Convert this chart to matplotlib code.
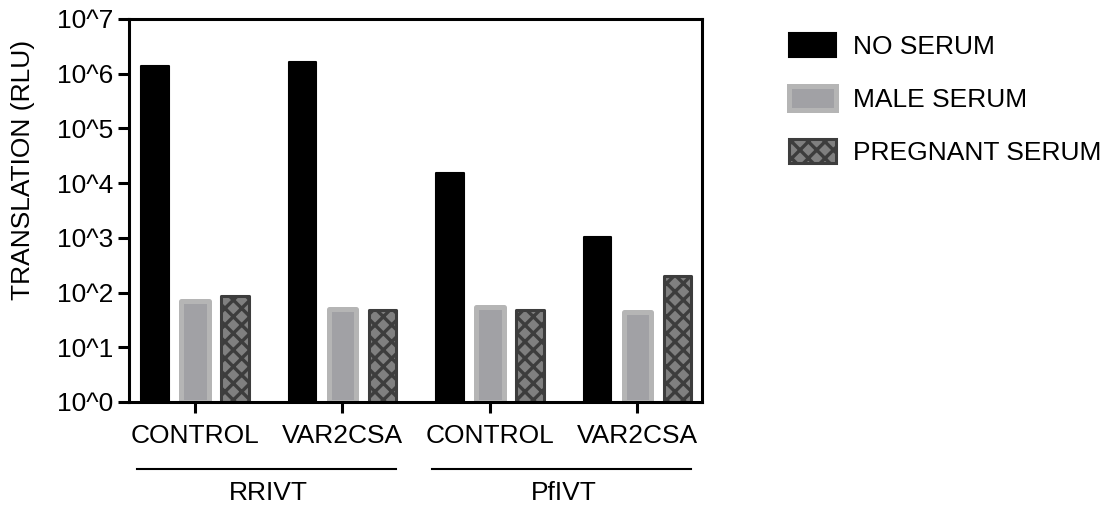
import matplotlib.pyplot as plt
import numpy as np
from matplotlib.lines import Line2D
from matplotlib.patches import Patch
from matplotlib.transforms import blended_transform_factory

plt.rcParams["font.family"] = ["Liberation Sans", "DejaVu Sans"]
plt.rcParams["hatch.linewidth"] = 2.4

# values
categories = ["CONTROL", "VAR2CSA", "CONTROL", "VAR2CSA"]
groups = ["RRIVT", "PfIVT"]
series = ["NO SERUM", "MALE SERUM", "PREGNANT SERUM"]
no_serum = [1.4e6, 1.65e6, 1.5e4, 1.05e3]
male_serum = [70, 50, 54, 44]
pregnant_serum = [85, 47, 47, 200]
ytick_values = [1, 10, 100, 1e3, 1e4, 1e5, 1e6, 1e7]
ytick_labels = ["10^0", "10^1", "10^2", "10^3", "10^4", "10^5", "10^6", "10^7"]

FS = 19

fig = plt.figure(figsize=(11.07, 5.08), dpi=100)
ax = fig.add_axes([0.1165, 0.2087, 0.5175, 0.7539])

x = np.arange(len(categories))
step = 0.271
w = 0.185

styles = [
    dict(color="black", edgecolor="black", linewidth=1.5, hatch=None),
    dict(color="#a1a1a5", edgecolor="#b5b5b5", linewidth=3.6, hatch=None),
    dict(color="#808080", edgecolor="#3d3d3d", linewidth=2.2, hatch="xx"),
]
handles = []
for i, (vals, st) in enumerate(zip([no_serum, male_serum, pregnant_serum], styles)):
    ax.bar(x + (i - 1) * step, np.array(vals) - 1, w, bottom=1,
           color=st["color"], edgecolor=st["edgecolor"], linewidth=st["linewidth"],
           hatch=st["hatch"], joinstyle="round")
    handles.append(Patch(facecolor=st["color"], edgecolor=st["edgecolor"],
                         linewidth=st["linewidth"], hatch=st["hatch"]))

ax.set_yscale("log")
ax.set_ylim(1, 1e7)
ax.set_xlim(-0.447, 3.437)
ax.set_yticks(ytick_values)
ax.set_yticklabels(ytick_labels)
ax.yaxis.set_minor_locator(plt.NullLocator())
ax.set_xticks(x)
ax.set_xticklabels(categories)
ax.tick_params(axis="both", labelsize=FS, length=8, width=2.2, color="black")
ax.tick_params(axis="x", pad=8)
ax.tick_params(axis="y", pad=3)
for s in ax.spines.values():
    s.set_linewidth(2.2)

# axis title sits a little above the axis centre in the original
fig.text(0.0205, 0.665, "TRANSLATION (RLU)", rotation=90, ha="center",
         va="center", fontsize=FS)

# group brackets under the category labels
tr = blended_transform_factory(ax.transData, ax.transAxes)
for g, (a, b) in zip(groups, [(0, 1), (2, 3)]):
    ax.add_line(Line2D([a - 0.393, b + 0.363], [-0.175, -0.175], transform=tr,
                       color="black", linewidth=1.5, clip_on=False))
    ax.text((a + b) / 2, -0.238, g, transform=tr, ha="center", va="center",
            fontsize=FS)

fig.legend(handles, series, loc="upper left", bbox_to_anchor=(0.703, 0.955),
           frameon=False, fontsize=FS, handlelength=1.78, handleheight=1.0,
           handletextpad=0.65, labelspacing=1.02, borderaxespad=0)

fig.savefig("out.png", dpi=100)
